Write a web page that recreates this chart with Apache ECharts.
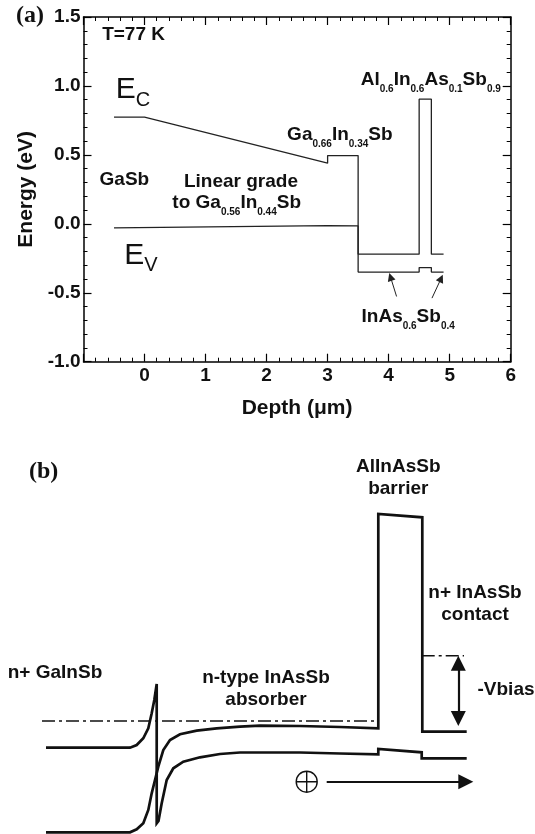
<!DOCTYPE html>
<html>
<head>
<meta charset="utf-8">
<script src="https://cdn.jsdelivr.net/npm/echarts@6/dist/echarts.min.js"></script>
<style>
html,body{margin:0;padding:0;background:#ffffff;}
#chart{width:535px;height:834px;}
</style>
</head>
<body>
<div id="chart"></div>
<script>
// ================= Panel (a): band-edge profile, T = 77 K =================
const depthRange = [-1, 6];
const depthStep = 1;
const energyRange = [-1, 1.5];
const energyStep = 0.5;
const depthTickLabels = ['', '0', '1', '2', '3', '4', '5', '6'];
const energyTickLabels = ['-1.0', '-0.5', '0.0', '0.5', '1.0', '1.5'];

// Conduction band edge Ec (depth in um, energy in eV)
const ecDepth  = [-0.5, 0, 3, 3, 3.5, 3.5, 4.5, 4.5, 4.7, 4.7, 4.9];
const ecEnergy = [0.774, 0.774, 0.44, 0.495, 0.495, -0.22, -0.22, 0.904, 0.904, -0.22, -0.22];
// Valence band edge Ev
const evDepth  = [-0.5, 3, 3.5, 3.5, 4.5, 4.5, 4.7, 4.7, 4.9];
const evEnergy = [-0.03, -0.013, -0.015, -0.35, -0.35, -0.317, -0.317, -0.35, -0.35];

// Pointer arrows to the InAsSb layers
const arrowTailDepth  = [4.13, 4.71];
const arrowTailEnergy = [-0.527, -0.539];
const arrowHeadDepth  = [4.03, 4.86];
const arrowHeadEnergy = [-0.385, -0.396];

// Annotations in panel (a)
const labelTextA = [
  '{m|T=77 K}',
  '{E|E}{Es|C}',
  '{E|E}{Es|V}',
  '{m|GaSb}',
  '{m|Linear grade}',
  '{m|to Ga}{s|0.56}{m|In}{s|0.44}{m|Sb}',
  '{m|Ga}{s|0.66}{m|In}{s|0.34}{m|Sb}',
  '{m|Al}{s|0.6}{m|In}{s|0.6}{m|As}{s|0.1}{m|Sb}{s|0.9}',
  '{m|InAs}{s|0.6}{m|Sb}{s|0.4}'
];
const labelDepthA  = [-0.18, -0.19, -0.06, -0.33, 1.58, 1.51, 3.2, 4.69, 4.32];
const labelEnergyA = [1.37, 0.97, -0.23, 0.32, 0.305, 0.152, 0.645, 1.044, -0.674];

// ================= Panel (b): schematic under bias (arbitrary units) =================
const schXRange = [0, 535];
const schYRange = [0, 374];
// Left CB -> spike -> interface drop -> absorber VB -> barrier VB step -> contact VB
const curveAx = [46, 130, 136.7, 143.3, 148.3, 151.7, 154.3, 156.7, 156.7, 158.5, 161.7, 166.7, 173.3, 183.3, 200, 220, 240, 260, 300, 340, 378.3, 378.3, 421.7, 421.7, 466.7];
const curveAy = [86.3, 86.3, 89, 95.7, 105.7, 120.7, 134, 150, 10.7, 13, 30.7, 54, 65.7, 72.3, 76.7, 80, 81.5, 81.5, 81.5, 80.5, 79.7, 85, 81.7, 75.7, 75.7];
// Left VB -> absorber CB -> AlInAsSb barrier -> contact CB
const curveBx = [46, 130, 136.7, 143.3, 148.3, 151.7, 155, 158.3, 163.3, 170, 180, 196.7, 216.7, 240, 260, 300, 340, 378.3, 378.3, 422.3, 422.3, 466.7];
const curveBy = [1.7, 1.7, 4.7, 10.7, 24, 40.7, 54, 67.3, 84, 94, 99.7, 103.3, 105.7, 107.3, 108.3, 108, 107, 105.7, 320, 316.7, 102.3, 102.3];
// Fermi levels (dash-dot)
const fermiLeftX = [42, 379];
const fermiLeftY = [113, 113];
const fermiRightX = [421.7, 464];
const fermiRightY = [178.3, 178.3];
// -Vbias double arrow and hole-drift arrow
const vbiasX = [458.3, 458.3];
const vbiasY = [170.8, 115.5];
const driftX = [326.7, 465.8];
const driftY = [52.3, 52.3];
const holeX = [306.7];
const holeY = [52.3];

const labelTextB = ['n+ GaInSb', 'n-type InAsSb\nabsorber', 'AlInAsSb\nbarrier', 'n+ InAsSb\ncontact', '-Vbias'];
const labelXB = [55, 266, 398.3, 475, 506];
const labelYB = [161, 145, 356.5, 230, 144];

// ================= build =================
const FONT = '"Liberation Sans", Arial, Helvetica, sans-serif';
const INK = '#111111';

function zip(xs, ys) { return xs.map((x, i) => [x, ys[i]]); }

const richA = {
  m:  { fontFamily: FONT, fontWeight: 'bold', fontSize: 19, lineHeight: 29, color: INK },
  s:  { fontFamily: FONT, fontWeight: 'bold', fontSize: 10, lineHeight: 10, verticalAlign: 'bottom', color: INK },
  E:  { fontFamily: FONT, fontWeight: 'normal', fontSize: 30, lineHeight: 40, color: INK },
  Es: { fontFamily: FONT, fontWeight: 'normal', fontSize: 20, lineHeight: 20, verticalAlign: 'bottom', color: INK }
};

function labelSeries(xIdx, yIdx, xs, ys, texts, extra) {
  return {
    type: 'scatter', xAxisIndex: xIdx, yAxisIndex: yIdx, silent: true, clip: false,
    symbolSize: 1, itemStyle: { color: 'rgba(0,0,0,0)', opacity: 1 },
    label: Object.assign({ show: true, position: 'inside', color: INK, opacity: 1,
      textBorderWidth: 0, textShadowBlur: 0 }, extra),
    emphasis: { disabled: true },
    data: xs.map((x, i) => ({ value: [x, ys[i]], label: { formatter: texts[i] } })),
    z: 5
  };
}

const axisCommon = {
  axisLine: { show: true, onZero: false, lineStyle: { color: '#000', width: 1.5 } },
  axisTick: { show: true, inside: true, length: 8, lineStyle: { color: '#000', width: 1.2 } },
  minorTick: { show: true, splitNumber: 5, length: 4, lineStyle: { color: '#000', width: 1 } },
  splitLine: { show: false },
  minorSplitLine: { show: false }
};

const option = {
  backgroundColor: '#ffffff',
  animation: false,
  graphic: [
    { type: 'text', left: 16, top: 4, style: { text: '(a)', font: 'bold 24px "Liberation Serif", "Times New Roman", serif', fill: INK } },
    { type: 'text', left: 29, top: 460, style: { text: '(b)', font: 'bold 24px "Liberation Serif", "Times New Roman", serif', fill: INK } }
  ],
  grid: [
    { left: 83.5, top: 17, width: 427.2, height: 344.7, show: false },
    { left: 0, top: 460, width: 535, height: 374, show: false }
  ],
  xAxis: [
    Object.assign({}, axisCommon, {
      type: 'value', gridIndex: 0, position: 'bottom', min: depthRange[0], max: depthRange[1], interval: depthStep,
      axisLabel: { show: true, margin: 5, color: INK, fontFamily: FONT, fontWeight: 'bold', fontSize: 19,
        formatter: (v, i) => depthTickLabels[i] },
      name: 'Depth (\u03bcm)', nameLocation: 'middle', nameGap: 36,
      nameTextStyle: { color: INK, fontFamily: FONT, fontWeight: 'bold', fontSize: 21 }
    }),
    Object.assign({}, axisCommon, {
      type: 'value', gridIndex: 0, position: 'top', min: depthRange[0], max: depthRange[1], interval: depthStep,
      axisLabel: { show: false }
    }),
    { type: 'value', gridIndex: 1, min: schXRange[0], max: schXRange[1], show: false }
  ],
  yAxis: [
    Object.assign({}, axisCommon, {
      type: 'value', gridIndex: 0, position: 'left', min: energyRange[0], max: energyRange[1], interval: energyStep,
      axisLabel: { show: true, margin: 3, color: INK, fontFamily: FONT, fontWeight: 'bold', fontSize: 19,
        formatter: (v, i) => energyTickLabels[i] },
      name: 'Energy (eV)', nameLocation: 'middle', nameGap: 41,
      nameTextStyle: { color: INK, fontFamily: FONT, fontWeight: 'bold', fontSize: 21 }
    }),
    Object.assign({}, axisCommon, {
      type: 'value', gridIndex: 0, position: 'right', min: energyRange[0], max: energyRange[1], interval: energyStep,
      axisLabel: { show: false }
    }),
    { type: 'value', gridIndex: 1, min: schYRange[0], max: schYRange[1], show: false }
  ],
  series: [
    // ----- panel (a)
    { type: 'line', xAxisIndex: 0, yAxisIndex: 0, data: zip(ecDepth, ecEnergy), showSymbol: false, symbol: 'none',
      lineStyle: { color: '#222', width: 1.3 }, silent: true },
    { type: 'line', xAxisIndex: 0, yAxisIndex: 0, data: zip(evDepth, evEnergy), showSymbol: false, symbol: 'none',
      lineStyle: { color: '#222', width: 1.3 }, silent: true },
    { type: 'lines', coordinateSystem: 'cartesian2d', xAxisIndex: 0, yAxisIndex: 0, silent: true,
      symbol: ['none', 'triangle'], symbolSize: 8,
      lineStyle: { color: '#222', width: 1, opacity: 1 },
      data: arrowTailDepth.map((x, i) => ({ coords: [[x, arrowTailEnergy[i]], [arrowHeadDepth[i], arrowHeadEnergy[i]]] })) },
    labelSeries(0, 0, labelDepthA, labelEnergyA, labelTextA, { rich: richA }),
    // ----- panel (b)
    { type: 'line', xAxisIndex: 2, yAxisIndex: 2, data: zip(curveAx, curveAy), showSymbol: false, symbol: 'none',
      lineStyle: { color: INK, width: 2.7, join: 'miter' }, silent: true },
    { type: 'line', xAxisIndex: 2, yAxisIndex: 2, data: zip(curveBx, curveBy), showSymbol: false, symbol: 'none',
      lineStyle: { color: INK, width: 2.7, join: 'miter' }, silent: true },
    { type: 'line', xAxisIndex: 2, yAxisIndex: 2, data: zip(fermiLeftX, fermiLeftY), showSymbol: false, symbol: 'none',
      lineStyle: { color: INK, width: 1.5, type: [13, 4, 3, 4] }, silent: true },
    { type: 'line', xAxisIndex: 2, yAxisIndex: 2, data: zip(fermiRightX, fermiRightY), showSymbol: false, symbol: 'none',
      lineStyle: { color: INK, width: 1.5, type: [13, 4, 3, 4] }, silent: true },
    { type: 'lines', coordinateSystem: 'cartesian2d', xAxisIndex: 2, yAxisIndex: 2, silent: true,
      symbol: ['triangle', 'triangle'], symbolSize: 15,
      lineStyle: { color: INK, width: 2.2, opacity: 1 },
      data: [{ coords: zip(vbiasX, vbiasY) }] },
    { type: 'lines', coordinateSystem: 'cartesian2d', xAxisIndex: 2, yAxisIndex: 2, silent: true,
      symbol: ['none', 'triangle'], symbolSize: 15,
      lineStyle: { color: INK, width: 2.2, opacity: 1 },
      data: [{ coords: zip(driftX, driftY) }] },
    { type: 'scatter', xAxisIndex: 2, yAxisIndex: 2, silent: true, clip: false,
      symbol: 'path://M20,10A10,10,0,1,1,0,10A10,10,0,1,1,20,10ZM10,0L10,20M0,10L20,10',
      symbolSize: 21, itemStyle: { color: 'none', borderColor: INK, borderWidth: 1.4, opacity: 1 },
      data: zip(holeX, holeY) },
    labelSeries(2, 2, labelXB, labelYB, labelTextB,
      { fontFamily: FONT, fontWeight: 'bold', fontSize: 19, lineHeight: 22, align: 'center' })
  ]
};

const chart = echarts.init(document.getElementById('chart'), null, { renderer: 'canvas' });
chart.setOption(option);
</script>
</body>
</html>
